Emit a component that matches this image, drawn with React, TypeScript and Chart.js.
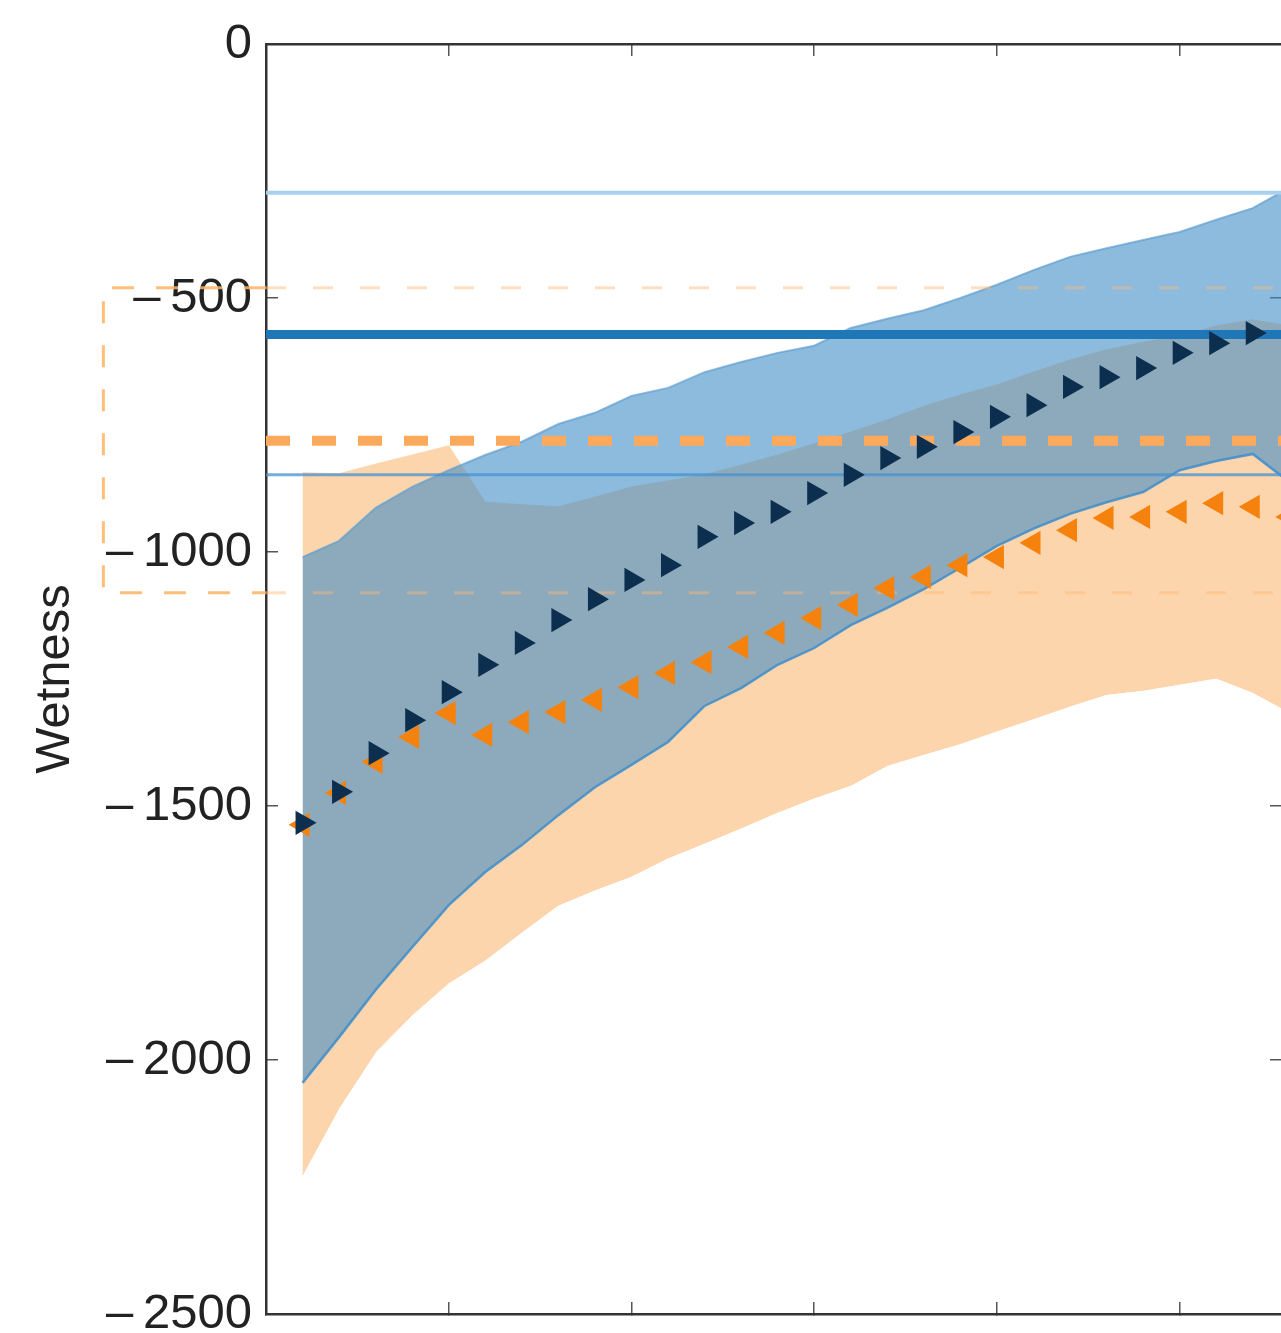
import React, { useEffect, useRef } from 'react';
import { Chart, registerables } from 'chart.js';

Chart.register(...registerables);

// ---- data ----
const steps = [1, 2, 3, 4, 5, 6, 7, 8, 9, 10, 11, 12, 13, 14, 15, 16, 17, 18, 19, 20, 21, 22, 23, 24, 25, 26, 27, 28];

const navyMeans = [-1533, -1472, -1396, -1331, -1276, -1222, -1179, -1134, -1093, -1055, -1026, -970, -943, -921, -884, -848, -815, -793, -764, -734, -711, -675, -656, -638, -608, -589, -569, -579];
const orangeMeans = [-1537, -1474, -1413, -1364, -1317, -1360, -1335, -1315, -1291, -1266, -1238, -1217, -1187, -1159, -1130, -1104, -1071, -1049, -1026, -1010, -982, -957, -933, -931, -921, -904, -911, -931];

const blueUpper = [-1010, -978, -913, -872, -839, -809, -783, -748, -726, -693, -677, -646, -626, -608, -594, -559, -541, -524, -500, -474, -445, -419, -402, -386, -370, -346, -323, -283];
const blueLower = [-2045, -1955, -1862, -1778, -1695, -1630, -1577, -1518, -1463, -1419, -1374, -1303, -1268, -1222, -1189, -1144, -1110, -1073, -1031, -988, -954, -925, -902, -882, -839, -821, -807, -862];

const orangeUpper = [-844, -846, -827, -809, -791, -902, -907, -911, -892, -872, -860, -848, -829, -809, -787, -764, -740, -713, -691, -671, -646, -622, -602, -587, -575, -555, -543, -555];
const orangeLower = [-2226, -2094, -1984, -1911, -1848, -1803, -1748, -1695, -1665, -1638, -1602, -1573, -1543, -1512, -1484, -1459, -1420, -1398, -1377, -1352, -1328, -1303, -1280, -1272, -1260, -1248, -1276, -1315];

// reference levels
const blueLevels = [-293, -572, -848]; // light, bold, thin
const orangeLevels = [-781];           // bold dashed
const insetLevels = [-480, -1080];     // inset box top / bottom
const insetX = [-4.45, 0];             // inset box left edge / axis

const yRange = [-2500, 0];
const yStep = 500;
const xRange = [0, 27.8];
const xStep = 5;

// ---- helpers ----
const toPoints = (ys: number[]) => steps.map((x, i) => ({ x, y: ys[i] }));
const levelLine = (y: number) => [
  { x: xRange[0], y },
  { x: steps[steps.length - 1], y },
];
const fmtTick = (v: number) => (v === 0 ? '0' : (v < 0 ? '\u2013\u2009' : '') + Math.abs(v));

const FONT = "'Liberation Sans', Arial, Helvetica, sans-serif";

const lineBase = {
  pointRadius: 0,
  pointHoverRadius: 0,
  tension: 0,
  fill: false,
};

export default function App() {
  const ref = useRef<HTMLCanvasElement>(null);

  useEffect(() => {
    if (!ref.current) return;
    Chart.defaults.font.family = FONT;

    const gridOpts = {
      display: true,
      drawOnChartArea: false,
      drawTicks: true,
      tickLength: -12,
      color: '#555',
      lineWidth: 1.5,
    };
    const borderOpts = { display: true, color: '#333', width: 2.5 };

    const chart = new Chart(ref.current, {
      type: 'line',
      data: {
        datasets: [
          // 0 navy triangles
          {
            ...lineBase,
            data: toPoints(navyMeans),
            showLine: false,
            pointStyle: 'triangle',
            rotation: 90,
            pointRadius: 14,
            pointHoverRadius: 14,
            pointBackgroundColor: '#0d2f4f',
            pointBorderWidth: 0,
            borderColor: '#0d2f4f',
            order: 0,
          },
          // 1 orange triangles
          {
            ...lineBase,
            data: toPoints(orangeMeans),
            showLine: false,
            pointStyle: 'triangle',
            rotation: 270,
            pointRadius: 14,
            pointHoverRadius: 14,
            pointBackgroundColor: '#f5820d',
            pointBorderWidth: 0,
            borderColor: '#f5820d',
            order: 1,
          },
          // 2 orange bold dashed level
          {
            ...lineBase,
            data: levelLine(orangeLevels[0]),
            borderColor: '#fda95b',
            borderWidth: 10,
            borderDash: [24, 22],
            borderCapStyle: 'butt',
            order: 2,
          },
          // 3 bold blue level
          {
            ...lineBase,
            data: levelLine(blueLevels[1]),
            borderColor: '#2077b8',
            borderWidth: 9,
            order: 3,
          },
          // 4 light blue level
          {
            ...lineBase,
            data: levelLine(blueLevels[0]),
            borderColor: '#a9d0ee',
            borderWidth: 4,
            order: 4,
          },
          // 5 thin blue level
          {
            ...lineBase,
            data: levelLine(blueLevels[2]),
            borderColor: 'rgba(70,145,210,0.75)',
            borderWidth: 3,
            order: 5,
          },
          // 6 inset top (inside plot)
          {
            ...lineBase,
            data: levelLine(insetLevels[0]),
            borderColor: 'rgba(255,185,115,0.45)',
            borderWidth: 3,
            borderDash: [20, 27],
            order: 6,
          },
          // 7 inset bottom (inside plot)
          {
            ...lineBase,
            data: levelLine(insetLevels[1]),
            borderColor: 'rgba(255,185,115,0.45)',
            borderWidth: 3,
            borderDash: [20, 27],
            order: 6,
          },
          // 8 inset outline outside the axes
          {
            ...lineBase,
            data: [
              { x: insetX[1], y: insetLevels[0] },
              { x: insetX[0], y: insetLevels[0] },
              { x: insetX[0], y: insetLevels[1] },
              { x: insetX[1], y: insetLevels[1] },
            ],
            borderColor: 'rgba(255,180,100,0.85)',
            borderWidth: 3,
            borderDash: [22, 22],
            clip: false,
            order: 6,
          },
          // 9 blue band upper (filled to lower)
          {
            ...lineBase,
            data: toPoints(blueUpper),
            borderColor: 'rgba(95,158,208,0.7)',
            borderWidth: 2,
            backgroundColor: 'rgba(65,142,198,0.6)',
            fill: '+1',
            order: 8,
          },
          // 10 blue band lower
          {
            ...lineBase,
            data: toPoints(blueLower),
            borderColor: 'rgba(70,145,205,0.9)',
            borderWidth: 2.5,
            order: 9,
          },
          // 11 orange band upper (filled to lower)
          {
            ...lineBase,
            data: toPoints(orangeUpper),
            borderColor: 'rgba(253,213,173,1)',
            borderWidth: 1,
            backgroundColor: '#fdd5ad',
            fill: '+1',
            order: 10,
          },
          // 12 orange band lower
          {
            ...lineBase,
            data: toPoints(orangeLower),
            borderColor: 'rgba(253,205,160,1)',
            borderWidth: 1,
            order: 11,
          },
        ],
      },
      options: {
        responsive: false,
        maintainAspectRatio: false,
        devicePixelRatio: 1,
        animation: false,
        events: [],
        layout: { padding: 0 },
        plugins: {
          legend: { display: false },
          tooltip: { enabled: false },
        },
        scales: {
          x: {
            type: 'linear',
            position: 'bottom',
            min: xRange[0],
            max: xRange[1],
            ticks: { display: false, stepSize: xStep, includeBounds: false },
            grid: gridOpts,
            border: borderOpts,
            afterFit: (s: any) => {
              s.height = 19;
            },
          },
          x2: {
            type: 'linear',
            position: 'top',
            min: xRange[0],
            max: xRange[1],
            ticks: { display: false, stepSize: xStep, includeBounds: false },
            grid: gridOpts,
            border: borderOpts,
            afterFit: (s: any) => {
              s.height = 44;
            },
          },
          y: {
            type: 'linear',
            position: 'left',
            min: yRange[0],
            max: yRange[1],
            ticks: {
              stepSize: yStep,
              padding: 26,
              color: '#222',
              font: { size: 49, family: FONT },
              callback: (v: any) => fmtTick(Number(v)),
            },
            title: {
              display: true,
              text: 'Wetness',
              color: '#222',
              font: { size: 49, family: FONT },
              padding: { top: 26, bottom: 0 },
            },
            grid: gridOpts,
            border: borderOpts,
            afterFit: (s: any) => {
              s.width = 266;
              s.paddingTop = 0;
              s.paddingBottom = 0;
            },
          },
          y2: {
            type: 'linear',
            position: 'right',
            min: yRange[0],
            max: yRange[1],
            ticks: { display: false, stepSize: yStep },
            grid: gridOpts,
            border: borderOpts,
            afterFit: (s: any) => {
              s.width = 18;
            },
          },
        },
      },
    } as any);

    return () => chart.destroy();
  }, []);

  return (
    <div
      style={{
        position: 'absolute',
        left: 0,
        top: 0,
        width: 1281,
        height: 1333,
        overflow: 'hidden',
        background: '#fff',
      }}
    >
      <canvas ref={ref} width={1300} height={1333} style={{ display: 'block', width: 1300, height: 1333 }} />
    </div>
  );
}
